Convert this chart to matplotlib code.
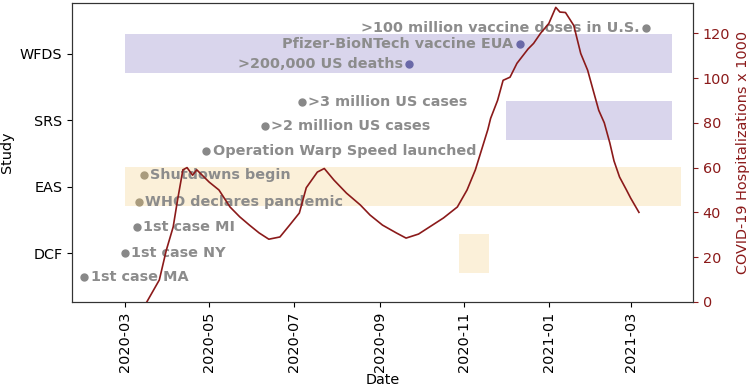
import matplotlib
matplotlib.use("Agg")
import matplotlib.pyplot as plt
import matplotlib.dates as mdates
import pandas as pd

plt.rcParams["font.size"] = 10.4

# studies on the left axis, bottom to top
studies = ["DCF", "EAS", "SRS", "WFDS"]
study_start = ["2020-10-28", "2020-03-01", "2020-12-01", "2020-03-01"]
study_end = ["2020-11-19", "2021-04-06", "2021-03-31", "2021-03-31"]
study_colors = ["#fbf0d9", "#fbf0d9", "#d9d5ec", "#d9d5ec"]

# timeline events
events = ["1st case MA", "1st case NY", "1st case MI", "WHO declares pandemic",
          "Shutdowns begin", "Operation Warp Speed launched", ">2 million US cases",
          ">3 million US cases", ">200,000 US deaths", "Pfizer-BioNTech vaccine EUA",
          ">100 million vaccine doses in U.S."]
event_dates = ["2020-02-01", "2020-03-01", "2020-03-10", "2020-03-11", "2020-03-15",
               "2020-04-29", "2020-06-10", "2020-07-07", "2020-09-22", "2020-12-11",
               "2021-03-12"]
event_level = [-0.36, 0.0, 0.39, 0.77, 1.17, 1.53, 1.91, 2.28, 2.85, 3.15, 3.39]

# covid hospitalizations (thousands)
hosp_dates = ["2020-03-17", "2020-03-26", "2020-03-31", "2020-04-05", "2020-04-08",
              "2020-04-12", "2020-04-15", "2020-04-19", "2020-04-22", "2020-05-01",
              "2020-05-08", "2020-05-16", "2020-05-23", "2020-05-30", "2020-06-06",
              "2020-06-13", "2020-06-21", "2020-06-28", "2020-07-05", "2020-07-10",
              "2020-07-18", "2020-07-23", "2020-07-30", "2020-08-08", "2020-08-18",
              "2020-08-25", "2020-09-03", "2020-09-13", "2020-09-20", "2020-09-29",
              "2020-10-07", "2020-10-17", "2020-10-27", "2020-11-03", "2020-11-09",
              "2020-11-15", "2020-11-18", "2020-11-20", "2020-11-25", "2020-11-29",
              "2020-12-04", "2020-12-09", "2020-12-17", "2020-12-21", "2020-12-26",
              "2021-01-01", "2021-01-06", "2021-01-09", "2021-01-13", "2021-01-19",
              "2021-01-24", "2021-01-29", "2021-02-02", "2021-02-06", "2021-02-10",
              "2021-02-14", "2021-02-17", "2021-02-21", "2021-02-26", "2021-03-01",
              "2021-03-07"]
hosp_values = [0, 9.8, 23, 33.5, 45, 59, 60, 56.6, 59, 53.5,
               50, 42.4, 38, 34.3, 30.8, 28, 29, 34.3, 39.7, 51,
               58, 59.6, 54.4, 48.6, 43.3, 38.8, 34.3, 30.8, 28.5, 30.3,
               33.5, 37.5, 42.4, 50, 59, 71, 77, 82, 90, 99,
               100.4, 106.6, 113, 115.5, 120, 124.4, 131.6, 129.5, 129.3, 123.5,
               111, 103.5, 94.5, 85.6, 80, 71, 63, 55.8, 50, 46.4,
               40]

text_gray = "#8c8c8c"
dot_colors = {"lav": "#6a69a8", "cream": "#a99b7d"}
red = "#8b1a1a"

fig = plt.figure(figsize=(7.5, 3.89), dpi=100)
ax = fig.add_axes([0.096, 0.224, 0.828, 0.768])

# study boxes
for i in range(len(studies)):
    s = pd.Timestamp(study_start[i])
    e = pd.Timestamp(study_end[i])
    ax.fill_between([s, e], i - 0.29, i + 0.29, color=study_colors[i], lw=0, zorder=1)

# events: dots and labels
for name, d, lvl in zip(events, event_dates, event_level):
    d = pd.Timestamp(d)
    color = "#888888"
    if name in ("WHO declares pandemic", "Shutdowns begin"):
        color = dot_colors["cream"]
    if name in (">200,000 US deaths", "Pfizer-BioNTech vaccine EUA"):
        color = dot_colors["lav"]
    ax.plot([d], [lvl], "o", color=color, markersize=5, zorder=3)
    if lvl > 2.5:
        ax.annotate(name, (d, lvl), xytext=(-4.5, 0), textcoords="offset points",
                    ha="right", va="center", fontsize=10.4, fontweight="bold",
                    color=text_gray, zorder=4)
    else:
        ax.annotate(name, (d, lvl), xytext=(4.5, 0), textcoords="offset points",
                    ha="left", va="center", fontsize=10.4, fontweight="bold",
                    color=text_gray, zorder=4)

ax.set_yticks(range(len(studies)))
ax.set_yticklabels(studies)
ax.set_ylim(-0.73, 3.76)
ax.set_xlim(pd.Timestamp("2020-01-23"), pd.Timestamp("2021-04-15"))
ax.xaxis.set_major_locator(mdates.MonthLocator(bymonth=[1, 3, 5, 7, 9, 11]))
ax.xaxis.set_major_formatter(mdates.DateFormatter("%Y-%m"))
plt.setp(ax.get_xticklabels(), rotation=90)
ax.set_xlabel("Date", labelpad=1)
ax.set_ylabel("Study")

# hospitalizations on the right axis
ax2 = ax.twinx()
ax2.plot(pd.to_datetime(hosp_dates), hosp_values, color=red, lw=1.2)
ax2.set_ylim(0, 133.5)
ax2.set_yticks([0, 20, 40, 60, 80, 100, 120])
ax2.tick_params(axis="y", colors=red)
ax2.set_ylabel("COVID-19 Hospitalizations x 1000", color=red)

for a in (ax, ax2):
    for sp in a.spines.values():
        sp.set_edgecolor("#333333")

fig.savefig("out.png", dpi=100)
